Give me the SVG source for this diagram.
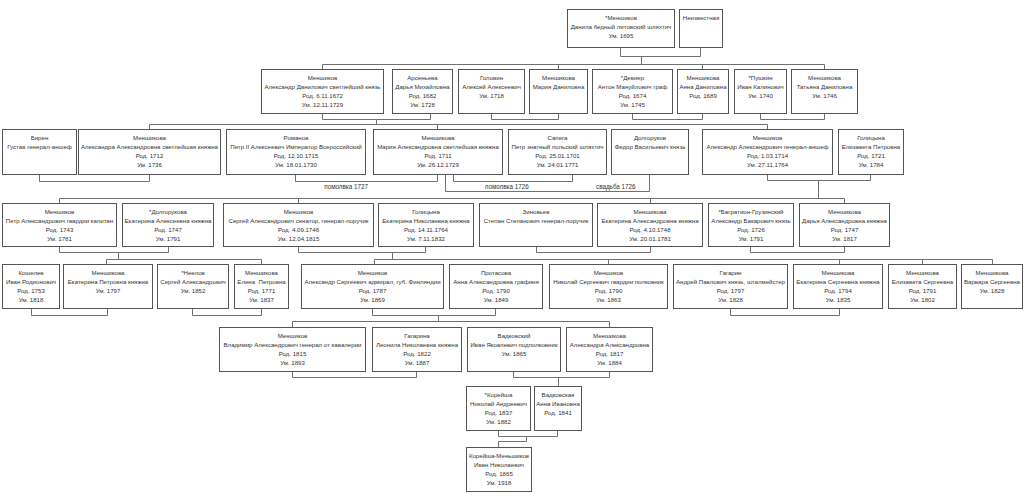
<svg xmlns="http://www.w3.org/2000/svg" width="1024" height="498" viewBox="0 0 1024 498">
<style>
.b{fill:#fff;stroke:#555;stroke-width:1}
.t{font-family:"Liberation Sans",Arial,sans-serif;font-size:6.1px;fill:#333;text-anchor:middle}
.l{font-family:"Liberation Sans",Arial,sans-serif;font-size:6.3px;fill:#333}
.c{fill:none;stroke:#707070;stroke-width:1}
</style>
<rect width="1024" height="498" fill="#fff"/>
<g id="connectors" class="c">
<path d="M620.5 47.5V56.5H700.5V47.5M641.5 56.5V64.5M322.5 69.5V64.5H824.5V69.5M558.5 64.5V69.5M702.5 64.5V69.5"/>
<path d="M322.5 113.5V119.5H430.5V113.5M376.5 119.5V124.5M491.5 113.5V119.5H558.5V113.5M632.5 113.5V119.5H702.5V113.5M760.5 113.5V119.5H824.5V113.5"/>
<path d="M149.5 129.5V124.5H767.5V129.5M437.5 124.5V129.5"/>
<path d="M39.5 174.5V181.5H149.5V174.5M295.5 174.5V181.5H437.5V174.5M453.5 174.5V181.5H572.5V174.5M445.5 174.5V191.5H649.5V174.5M767.5 174.5V180.5H870.5V174.5M818.5 180.5V198.5"/>
<path d="M59.5 203.5V198.5H844.5V203.5M298.5 198.5V203.5M650.5 198.5V203.5"/>
<path d="M59.5 246.5V252.5H168.5V246.5M118.5 252.5V259.5M298.5 246.5V252.5H425.5V246.5M392.5 252.5V259.5M536.5 246.5V252.5H650.5V246.5M750.5 246.5V252.5H844.5V246.5"/>
<path d="M106.5 264.5V259.5H261.5V264.5M374.5 264.5V259.5H992.5V264.5M608.5 259.5V264.5M839.5 259.5V264.5M922.5 259.5V264.5"/>
<path d="M31.5 308.5V315.5H107.5V308.5M192.5 308.5V315.5H261.5V308.5M372.5 308.5V315.5H495.5V308.5M438.5 315.5V321.5M730.5 308.5V315.5H839.5V308.5"/>
<path d="M292.5 327.5V321.5H609.5V327.5"/>
<path d="M292.5 371.5V377.5H416.5V371.5M513.5 371.5V377.5H609.5V371.5M558.5 377.5V386.5"/>
<path d="M498.5 430.5V436.5H557.5V430.5M526.5 436.5V441.5H498.5V447.5"/>
</g>
<g id="labels">
<text class="l" x="368" y="188.5" text-anchor="end">помолвка 1727</text>
<text class="l" x="485" y="188.5">помолвка 1726</text>
<text class="l" x="596" y="188.5">свадьба 1726</text>
</g>
<g id="n1"><rect class="b" x="567.5" y="9.5" width="107" height="38"/><text class="t"><tspan x="621" y="19.7">*Меншиков</tspan><tspan x="621" y="28.7">Данила бедный литовский шляхтич</tspan><tspan x="621" y="37.7">Ум. 1695</tspan></text></g>
<g id="n2"><rect class="b" x="679.5" y="9.5" width="43" height="38"/><text class="t"><tspan x="701" y="19.7">Неизвестная</tspan></text></g>
<g id="n3"><rect class="b" x="261.5" y="69.5" width="122" height="44"/><text class="t"><tspan x="322.5" y="79.7">Меншиков</tspan><tspan x="322.5" y="88.7">Александр Данилович светлейший князь</tspan><tspan x="322.5" y="97.7">Род. 6.11.1672</tspan><tspan x="322.5" y="106.7">Ум. 12.11.1729</tspan></text></g>
<g id="n4"><rect class="b" x="392.5" y="69.5" width="60" height="44"/><text class="t"><tspan x="422.5" y="79.7">Арсеньева</tspan><tspan x="422.5" y="88.7">Дарья Михайловна</tspan><tspan x="422.5" y="97.7">Род. 1682</tspan><tspan x="422.5" y="106.7">Ум. 1728</tspan></text></g>
<g id="n5"><rect class="b" x="458.5" y="69.5" width="66" height="44"/><text class="t"><tspan x="491.5" y="79.7">Головин</tspan><tspan x="491.5" y="88.7">Алексей Алексеевич</tspan><tspan x="491.5" y="97.7">Ум. 1718</tspan></text></g>
<g id="n6"><rect class="b" x="529.5" y="69.5" width="58" height="44"/><text class="t"><tspan x="558.5" y="79.7">Меншикова</tspan><tspan x="558.5" y="88.7">Мария Даниловна</tspan></text></g>
<g id="n7"><rect class="b" x="592.5" y="69.5" width="80" height="44"/><text class="t"><tspan x="632.5" y="79.7">*Девиер</tspan><tspan x="632.5" y="88.7">Антон Мануйлович граф</tspan><tspan x="632.5" y="97.7">Род. 1674</tspan><tspan x="632.5" y="106.7">Ум. 1745</tspan></text></g>
<g id="n8"><rect class="b" x="677.5" y="69.5" width="51" height="44"/><text class="t"><tspan x="703" y="79.7">Меншикова</tspan><tspan x="703" y="88.7">Анна Даниловна</tspan><tspan x="703" y="97.7">Род. 1689</tspan></text></g>
<g id="n9"><rect class="b" x="734.5" y="69.5" width="52" height="44"/><text class="t"><tspan x="760.5" y="79.7">*Пушкин</tspan><tspan x="760.5" y="88.7">Иван Калинович</tspan><tspan x="760.5" y="97.7">Ум. 1740</tspan></text></g>
<g id="n10"><rect class="b" x="791.5" y="69.5" width="66" height="44"/><text class="t"><tspan x="824.5" y="79.7">Меншикова</tspan><tspan x="824.5" y="88.7">Татьяна Даниловна</tspan><tspan x="824.5" y="97.7">Ум. 1746</tspan></text></g>
<g id="n11"><rect class="b" x="2.5" y="129.5" width="74" height="45"/><text class="t"><tspan x="39.5" y="139.7">Бирен</tspan><tspan x="39.5" y="148.7">Густав генерал-аншеф</tspan></text></g>
<g id="n12"><rect class="b" x="78.5" y="129.5" width="142" height="45"/><text class="t"><tspan x="149.5" y="139.7">Меншикова</tspan><tspan x="149.5" y="148.7">Александра Александровна светлейшая княжна</tspan><tspan x="149.5" y="157.7">Род. 1712</tspan><tspan x="149.5" y="166.7">Ум. 1736</tspan></text></g>
<g id="n13"><rect class="b" x="226.5" y="129.5" width="139" height="45"/><text class="t"><tspan x="296" y="139.7">Романов</tspan><tspan x="296" y="148.7">Петр II Алексеевич Император Всероссийский</tspan><tspan x="296" y="157.7">Род. 12.10.1715</tspan><tspan x="296" y="166.7">Ум. 18.01.1730</tspan></text></g>
<g id="n14"><rect class="b" x="373.5" y="129.5" width="129" height="45"/><text class="t"><tspan x="438" y="139.7">Меншикова</tspan><tspan x="438" y="148.7">Мария Александровна светлейшая княжна</tspan><tspan x="438" y="157.7">Род. 1711</tspan><tspan x="438" y="166.7">Ум. 26.12.1729</tspan></text></g>
<g id="n15"><rect class="b" x="508.5" y="129.5" width="98" height="45"/><text class="t"><tspan x="557.5" y="139.7">Сапега</tspan><tspan x="557.5" y="148.7">Петр знатный польский шляхтич</tspan><tspan x="557.5" y="157.7">Род. 25.01.1701</tspan><tspan x="557.5" y="166.7">Ум. 24.01.1771</tspan></text></g>
<g id="n16"><rect class="b" x="611.5" y="129.5" width="77" height="45"/><text class="t"><tspan x="650" y="139.7">Долгоруков</tspan><tspan x="650" y="148.7">Федор Васильевич князь</tspan></text></g>
<g id="n17"><rect class="b" x="702.5" y="129.5" width="130" height="45"/><text class="t"><tspan x="767.5" y="139.7">Меншиков</tspan><tspan x="767.5" y="148.7">Александр Александрович генерал-аншеф</tspan><tspan x="767.5" y="157.7">Род. 1.03.1714</tspan><tspan x="767.5" y="166.7">Ум. 27.11.1764</tspan></text></g>
<g id="n18"><rect class="b" x="838.5" y="129.5" width="65" height="45"/><text class="t"><tspan x="871" y="139.7">Голицына</tspan><tspan x="871" y="148.7">Елизавета Петровна</tspan><tspan x="871" y="157.7">Род. 1721</tspan><tspan x="871" y="166.7">Ум. 1784</tspan></text></g>
<g id="n19"><rect class="b" x="2.5" y="203.5" width="114" height="43"/><text class="t"><tspan x="59.5" y="213.7">Меншиков</tspan><tspan x="59.5" y="222.7">Петр Александрович гвардии капитан</tspan><tspan x="59.5" y="231.7">Род. 1743</tspan><tspan x="59.5" y="240.7">Ум. 1781</tspan></text></g>
<g id="n20"><rect class="b" x="122.5" y="203.5" width="91" height="43"/><text class="t"><tspan x="168" y="213.7">*Долгорукова</tspan><tspan x="168" y="222.7">Екатерина Алексеевна княжна</tspan><tspan x="168" y="231.7">Род. 1747</tspan><tspan x="168" y="240.7">Ум. 1791</tspan></text></g>
<g id="n21"><rect class="b" x="223.5" y="203.5" width="150" height="43"/><text class="t"><tspan x="298.5" y="213.7">Меншиков</tspan><tspan x="298.5" y="222.7">Сергей Александрович сенатор, генерал-поручик</tspan><tspan x="298.5" y="231.7">Род. 4.09.1746</tspan><tspan x="298.5" y="240.7">Ум. 12.04.1815</tspan></text></g>
<g id="n22"><rect class="b" x="378.5" y="203.5" width="95" height="43"/><text class="t"><tspan x="426" y="213.7">Голицына</tspan><tspan x="426" y="222.7">Екатерина Николаевна княжна</tspan><tspan x="426" y="231.7">Род. 14.11.1764</tspan><tspan x="426" y="240.7">Ум. 7.11.1832</tspan></text></g>
<g id="n23"><rect class="b" x="479.5" y="203.5" width="113" height="43"/><text class="t"><tspan x="536" y="213.7">Зиновьев</tspan><tspan x="536" y="222.7">Степан Степанович генерал-поручик</tspan></text></g>
<g id="n24"><rect class="b" x="597.5" y="203.5" width="105" height="43"/><text class="t"><tspan x="650" y="213.7">Меншикова</tspan><tspan x="650" y="222.7">Екатерина Александровна княжна</tspan><tspan x="650" y="231.7">Род. 4.10.1748</tspan><tspan x="650" y="240.7">Ум. 20.01.1781</tspan></text></g>
<g id="n25"><rect class="b" x="708.5" y="203.5" width="85" height="43"/><text class="t"><tspan x="751" y="213.7">*Багратион-Грузинский</tspan><tspan x="751" y="222.7">Александр Бакарович князь</tspan><tspan x="751" y="231.7">Род. 1726</tspan><tspan x="751" y="240.7">Ум. 1791</tspan></text></g>
<g id="n26"><rect class="b" x="799.5" y="203.5" width="90" height="43"/><text class="t"><tspan x="844.5" y="213.7">Меншикова</tspan><tspan x="844.5" y="222.7">Дарья Александровна княжна</tspan><tspan x="844.5" y="231.7">Род. 1747</tspan><tspan x="844.5" y="240.7">Ум. 1817</tspan></text></g>
<g id="n27"><rect class="b" x="2.5" y="264.5" width="57" height="44"/><text class="t"><tspan x="31" y="274.7">Кошелев</tspan><tspan x="31" y="283.7">Иван Родионович</tspan><tspan x="31" y="292.7">Род. 1753</tspan><tspan x="31" y="301.7">Ум. 1818</tspan></text></g>
<g id="n28"><rect class="b" x="63.5" y="264.5" width="89" height="44"/><text class="t"><tspan x="108" y="274.7">Меншикова</tspan><tspan x="108" y="283.7">Екатерина Петровна княжна</tspan><tspan x="108" y="292.7">Ум. 1797</tspan></text></g>
<g id="n29"><rect class="b" x="157.5" y="264.5" width="71" height="44"/><text class="t"><tspan x="193" y="274.7">*Неелов</tspan><tspan x="193" y="283.7">Сергей Александрович</tspan><tspan x="193" y="292.7">Ум. 1852</tspan></text></g>
<g id="n30"><rect class="b" x="234.5" y="264.5" width="54" height="44"/><text class="t"><tspan x="261.5" y="274.7">Меншикова</tspan><tspan x="261.5" y="283.7" xml:space="preserve">Елена  Петровна</tspan><tspan x="261.5" y="292.7">Род. 1771</tspan><tspan x="261.5" y="301.7">Ум. 1837</tspan></text></g>
<g id="n31"><rect class="b" x="301.5" y="264.5" width="142" height="44"/><text class="t"><tspan x="372.5" y="274.7">Меншиков</tspan><tspan x="372.5" y="283.7">Александр Сергеевич адмирал, губ. Финляндии</tspan><tspan x="372.5" y="292.7">Род. 1787</tspan><tspan x="372.5" y="301.7">Ум. 1869</tspan></text></g>
<g id="n32"><rect class="b" x="449.5" y="264.5" width="93" height="44"/><text class="t"><tspan x="496" y="274.7">Протасова</tspan><tspan x="496" y="283.7">Анна Александровна графиня</tspan><tspan x="496" y="292.7">Род. 1790</tspan><tspan x="496" y="301.7">Ум. 1849</tspan></text></g>
<g id="n33"><rect class="b" x="549.5" y="264.5" width="118" height="44"/><text class="t"><tspan x="608.5" y="274.7">Меншиков</tspan><tspan x="608.5" y="283.7">Николай Сергеевич гвардии полковник</tspan><tspan x="608.5" y="292.7">Род. 1790</tspan><tspan x="608.5" y="301.7">Ум. 1863</tspan></text></g>
<g id="n34"><rect class="b" x="673.5" y="264.5" width="114" height="44"/><text class="t"><tspan x="730.5" y="274.7">Гагарин</tspan><tspan x="730.5" y="283.7">Андрей Павлович князь, шталмейстер</tspan><tspan x="730.5" y="292.7">Род. 1797</tspan><tspan x="730.5" y="301.7">Ум. 1828</tspan></text></g>
<g id="n35"><rect class="b" x="793.5" y="264.5" width="89" height="44"/><text class="t"><tspan x="838" y="274.7">Меншикова</tspan><tspan x="838" y="283.7">Екатерина Сергеевна княжна</tspan><tspan x="838" y="292.7">Род. 1794</tspan><tspan x="838" y="301.7">Ум. 1835</tspan></text></g>
<g id="n36"><rect class="b" x="888.5" y="264.5" width="68" height="44"/><text class="t"><tspan x="922.5" y="274.7">Меншикова</tspan><tspan x="922.5" y="283.7">Елизавета Сергеевна</tspan><tspan x="922.5" y="292.7">Род. 1791</tspan><tspan x="922.5" y="301.7">Ум. 1802</tspan></text></g>
<g id="n37"><rect class="b" x="961.5" y="264.5" width="61" height="44"/><text class="t"><tspan x="992" y="274.7">Меншикова</tspan><tspan x="992" y="283.7">Варвара Сергеевна</tspan><tspan x="992" y="292.7">Ум. 1828</tspan></text></g>
<g id="n38"><rect class="b" x="219.5" y="327.5" width="146" height="44"/><text class="t"><tspan x="292.5" y="337.7">Меншиков</tspan><tspan x="292.5" y="346.7">Владимир Александрович генерал от кавалерии</tspan><tspan x="292.5" y="355.7">Род. 1815</tspan><tspan x="292.5" y="364.7">Ум. 1893</tspan></text></g>
<g id="n39"><rect class="b" x="372.5" y="327.5" width="89" height="44"/><text class="t"><tspan x="417" y="337.7">Гагарина</tspan><tspan x="417" y="346.7">Леонила Николаевна княжна</tspan><tspan x="417" y="355.7">Род. 1822</tspan><tspan x="417" y="364.7">Ум. 1887</tspan></text></g>
<g id="n40"><rect class="b" x="467.5" y="327.5" width="93" height="44"/><text class="t"><tspan x="514" y="337.7">Вадковский</tspan><tspan x="514" y="346.7">Иван Яковлевич подполковник</tspan><tspan x="514" y="355.7">Ум. 1865</tspan></text></g>
<g id="n41"><rect class="b" x="566.5" y="327.5" width="86" height="44"/><text class="t"><tspan x="609.5" y="337.7">Меншикова</tspan><tspan x="609.5" y="346.7">Александра Александровна</tspan><tspan x="609.5" y="355.7">Род. 1817</tspan><tspan x="609.5" y="364.7">Ум. 1884</tspan></text></g>
<g id="n42"><rect class="b" x="466.5" y="386.5" width="64" height="44"/><text class="t"><tspan x="498.5" y="396.7">*Корейша</tspan><tspan x="498.5" y="405.7">Николай Андреевич</tspan><tspan x="498.5" y="414.7">Род. 1837</tspan><tspan x="498.5" y="423.7">Ум. 1882</tspan></text></g>
<g id="n43"><rect class="b" x="534.5" y="386.5" width="47" height="44"/><text class="t"><tspan x="558" y="396.7">Вадковская</tspan><tspan x="558" y="405.7">Анна Ивановна</tspan><tspan x="558" y="414.7">Род. 1841</tspan></text></g>
<g id="n44"><rect class="b" x="466.5" y="447.5" width="65" height="44"/><text class="t"><tspan x="499" y="457.7">Корейша-Меньшиков</tspan><tspan x="499" y="466.7">Иван Николаевич</tspan><tspan x="499" y="475.7">Род. 1865</tspan><tspan x="499" y="484.7">Ум. 1918</tspan></text></g>
</svg>
